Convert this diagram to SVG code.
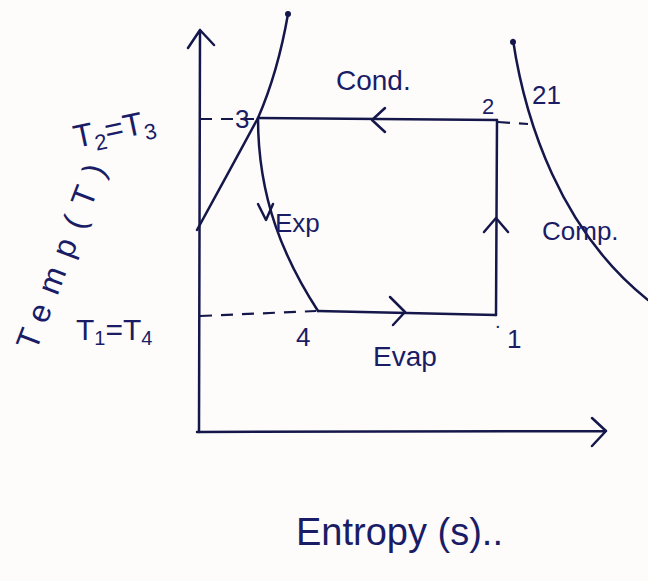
<svg xmlns="http://www.w3.org/2000/svg" width="648" height="581" viewBox="0 0 648 581">
<style>
.ln{fill:none;stroke:#15174a;stroke-width:2.5;stroke-linecap:round;stroke-linejoin:round}
.ds{fill:none;stroke:#15174a;stroke-width:2.2;stroke-dasharray:12 9}
.t{font-family:"Liberation Sans",Arial,sans-serif;fill:#1a1d66}
</style>
<rect width="648" height="581" fill="#fdfcfb"/>
<g id="axes">
<path class="ln" d="M199,432 L200,30 M188,48 L200,30 L214,45"/>
<path class="ln" d="M197,432 L606,431 M592,418 L606,431 L592,446"/>
</g>
<g id="curves">
<path class="ln" d="M288,14 C280,60 268,95 258,118 Q230,170 197,230"/>
<circle cx="288" cy="14" r="3" fill="#15174a"/>
<path class="ln" d="M513,40 C525,120 560,230 648,300"/>
<circle cx="513" cy="42" r="3" fill="#15174a"/>
</g>
<g id="connectors">
<path class="ln" d="M258,118 L497,120"/>
<path class="ln" d="M385,108 L372,120 L385,132"/>
<path class="ln" d="M497,120 L496,315"/>
<path class="ln" d="M484,232 L496,218 L508,232"/>
<path class="ln" d="M318,311 L496,315"/>
<path class="ln" d="M390,297 L405,312 L393,325"/>
<path class="ln" d="M258,118 C258,200 285,260 318,311"/>
<path class="ln" d="M258,204 L266,220 L273,204"/>
<path class="ds" d="M200,119 L256,119"/>
<path class="ds" d="M200,316 L316,311"/>
<path class="ds" d="M498,122 L528,124"/>
</g>
<g id="labels">
<text class="t" x="235" y="128" font-size="26">3</text>
<text class="t" x="482" y="114" font-size="22">2</text>
<text class="t" x="532" y="104" font-size="26">21</text>
<text class="t" x="336" y="90" font-size="28">Cond.</text>
<text class="t" x="76" y="148" font-size="32" transform="rotate(-12 76 148)">T<tspan font-size="22" dy="7">2</tspan><tspan dy="-7">=T</tspan><tspan font-size="22" dy="7">3</tspan></text>
<text class="t" x="36" y="352" font-size="32" textLength="196" transform="rotate(-69 36 352)">Temp(T)</text>
<text class="t" x="275" y="232" font-size="26">Exp</text>
<text class="t" x="542" y="240" font-size="26">Comp.</text>
<text class="t" x="76" y="340" font-size="30">T<tspan font-size="20" dy="5">1</tspan><tspan dy="-5">=T</tspan><tspan font-size="20" dy="5">4</tspan></text>
<text class="t" x="296" y="346" font-size="26">4</text>
<text class="t" x="373" y="366" font-size="28">Evap</text>
<text class="t" x="495" y="328" font-size="20">.</text>
<text class="t" x="507" y="348" font-size="26">1</text>
<text class="t" x="296" y="545" font-size="38">Entropy (s)..</text>
</g>
</svg>
